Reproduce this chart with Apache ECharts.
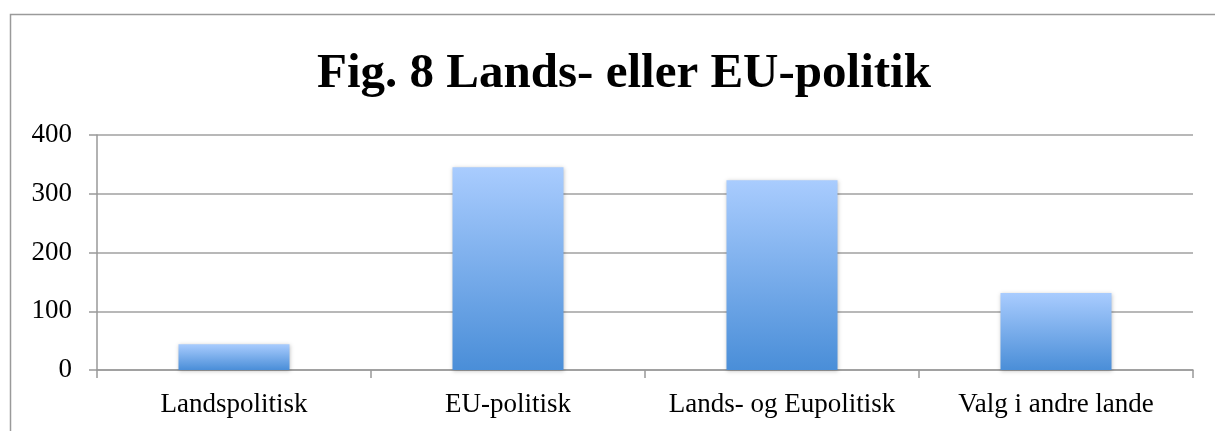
<!DOCTYPE html>
<html lang="da">
<head>
    <meta charset="UTF-8">
    <title>Fig. 8 Lands- eller EU-politik</title>
</head>
<style>
    * {
        margin: 0;
        padding: 0;
    }

    html, body {
        height: 100%;
        background: #fff;
    }

    #chart {
        width: 1215px;
        height: 431px;
    }
</style>
<script src="https://cdn.jsdelivr.net/npm/echarts@6/dist/echarts.min.js"></script>
<body>
<div id="chart"></div>
</body>
<script>
  const categories = ['Landspolitisk', 'EU-politisk', 'Lands- og Eupolitisk', 'Valg i andre lande']
  const values = [44, 345, 323, 131]
  const yTicks = [0, 100, 200, 300, 400]

  const serif = '"Liberation Serif", "DejaVu Serif", serif'

  const chart = echarts.init(document.getElementById('chart'))

  chart.setOption({
    animation: false,
    title: {
      text: 'Fig. 8 Lands- eller EU-politik',
      left: 619,
      top: 45,
      textAlign: 'center',
      textStyle: {
        fontFamily: serif,
        fontWeight: 'bold',
        fontSize: 49,
        color: '#000'
      }
    },
    graphic: [{
      type: 'rect',
      shape: { x: 10.5, y: 14.5, width: 1400, height: 600 },
      style: { fill: 'none', stroke: '#9a9a9a', lineWidth: 1.5 },
      silent: true
    }],
    grid: {
      left: 97,
      right: 22,
      top: 135,
      bottom: 61
    },
    xAxis: {
      type: 'category',
      data: categories,
      axisLine: { lineStyle: { color: '#999', width: 1.5 } },
      axisTick: { show: true, interval: 0, length: 8, lineStyle: { color: '#999', width: 1.5 } },
      axisLabel: {
        interval: 0,
        hideOverlap: false,
        fontFamily: serif,
        fontSize: 27,
        color: '#000',
        margin: 21
      }
    },
    yAxis: {
      type: 'value',
      min: yTicks[0],
      max: yTicks[yTicks.length - 1],
      interval: 100,
      axisLine: { show: true, lineStyle: { color: '#999', width: 1.5 } },
      axisTick: { show: true, length: 8, lineStyle: { color: '#999', width: 1.5 } },
      splitLine: { lineStyle: { color: '#a0a0a0', width: 1.5 } },
      axisLabel: {
        fontFamily: serif,
        fontSize: 27,
        color: '#000',
        margin: 25
      }
    },
    series: [{
      type: 'bar',
      data: values,
      barWidth: 111,
      itemStyle: {
        color: new echarts.graphic.LinearGradient(0, 0, 0, 1, [
          { offset: 0, color: '#a9ccfe' },
          { offset: 1, color: '#4a8ed8' }
        ]),
        shadowColor: 'rgba(0,0,0,0.25)',
        shadowBlur: 4,
        shadowOffsetY: 1
      }
    }]
  })
</script>
</html>
